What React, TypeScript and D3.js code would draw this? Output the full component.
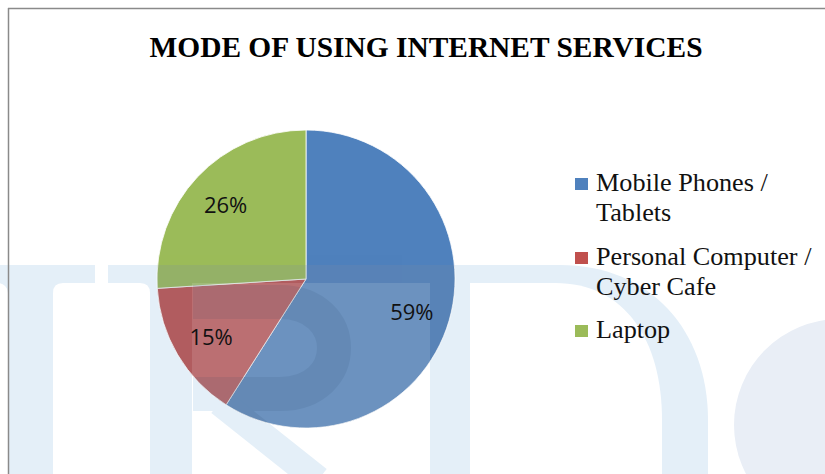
import React from "react";
import * as d3 from "d3";

const categories = ["Mobile Phones / Tablets", "Personal Computer / Cyber Cafe", "Laptop"];
const legendLines = [["Mobile Phones /", "Tablets"], ["Personal Computer /", "Cyber Cafe"], ["Laptop"]];
const values = [59, 15, 26];
const colors = ["#4f81bd", "#c0504d", "#9bbb59"];
const title = "MODE OF USING INTERNET SERVICES";

const W = 825;
const H = 474;
const cx = 306;
const cy = 279;
const radius = 149;

// light watermark behind the chart (letters + globe), drawn by hand
const Watermark = ({ blue, white }: { blue: string; white: string }) => (
  <g>
    <path d="M-10,265 H560 C650,265 708,330 708,420 V480 H-10 Z" fill={blue} />
    <rect x={-40} y={283} width={48} height={200} rx={10} fill={white} />
    <path d="M53,293 Q53,283 63,283 H95 V265 H108 V283 H140 Q150,283 150,293 V480 H53 Z" fill={white} />
    <rect x={192} y={283} width={238} height={200} fill={white} />
    <path d="M193,302 H280 C352,302 352,394 280,394 H193" fill="none" stroke={blue} strokeWidth={34} />
    <path d="M220,402 L318,480" stroke={blue} strokeWidth={28} />
    <path d="M470,283 H555 C625,283 662,340 662,420 V480 H470 Z" fill={white} />
  </g>
);

export default function App() {
  const pie = d3
    .pie<number>()
    .sort(null)
    .value((d) => d);
  const arcs = pie(values);
  const arc = d3.arc<d3.PieArcDatum<number>>().innerRadius(0).outerRadius(radius);
  const labelArc = d3
    .arc<d3.PieArcDatum<number>>()
    .innerRadius(radius * 0.74)
    .outerRadius(radius * 0.74);

  const legendY = d3.scaleOrdinal<number>().domain(categories).range([191, 265, 338]);

  return (
    <svg
      width={W}
      height={H}
      style={{ position: "absolute", left: 0, top: 0, background: "#fff" }}
    >
      <defs>
        <clipPath id="pieClip">
          <circle cx={cx} cy={cy} r={radius} />
        </clipPath>
      </defs>
      <Watermark blue="#e4eff8" white="#fff" />
      <circle cx={840} cy={425} r={106} fill="#e9eef6" />

      <line x1={8.5} y1={8} x2={8.5} y2={H} stroke="#8a8a8a" strokeWidth={1.5} />
      <line x1={8} y1={8.5} x2={W} y2={8.5} stroke="#8a8a8a" strokeWidth={1.5} />

      <text
        x={426}
        y={57}
        textAnchor="middle"
        fontFamily="'Liberation Serif', 'Times New Roman', serif"
        fontWeight="bold"
        fontSize={30}
        textLength={553}
        lengthAdjust="spacingAndGlyphs"
        fill="#000"
      >
        {title}
      </text>

      <g transform={`translate(${cx},${cy})`}>
        {arcs.map((a, i) => (
          <path key={i} d={arc(a) || ""} fill={colors[i]} stroke="#fff" strokeWidth={0.8} />
        ))}
      </g>
      {/* watermark seen through the pie: strokes darken, letter bodies lighten */}
      <g clipPath="url(#pieClip)">
        <rect x={0} y={265} width={W} height={H - 265} fill="#fff" opacity={0.1} />
        <path
          d="M-10,265 H560 C650,265 708,330 708,420 V480 H-10 Z"
          fill="#1d3f66"
          opacity={0.12}
        />
        <g opacity={0.12}>
          <rect x={53} y={283} width={97} height={200} fill="#fff" />
          <rect x={192} y={283} width={238} height={200} fill="#fff" />
        </g>
        <g opacity={0.1}>
          <path d="M193,302 H280 C352,302 352,394 280,394 H193" fill="none" stroke="#1d3f66" strokeWidth={34} />
          <path d="M220,402 L318,480" stroke="#1d3f66" strokeWidth={28} />
        </g>
      </g>
      <g transform={`translate(${cx},${cy})`}>
        {arcs.map((a, i) => {
          const [lx, ly] = labelArc.centroid(a);
          return (
            <text
              key={i}
              x={lx}
              y={ly}
              dy="0.45em"
              textAnchor="middle"
              fontFamily="'Open Sans', sans-serif"
              fontSize={22}
              fill="#111"
            >
              {`${values[i]}%`}
            </text>
          );
        })}
      </g>

      <g fontFamily="'Liberation Serif', 'Times New Roman', serif" fontSize={24.5} fill="#111">
        {categories.map((c, i) => {
          const y0 = legendY(c);
          return (
            <g key={c}>
              <rect x={575} y={y0 - 13} width={13} height={12} fill={colors[i]} />
              <g transform="translate(596,0) scale(1.07,1)">
                {legendLines[i].map((line, j) => (
                  <text key={j} x={0} y={y0 + j * 30}>
                    {line}
                  </text>
                ))}
              </g>
            </g>
          );
        })}
      </g>
    </svg>
  );
}
